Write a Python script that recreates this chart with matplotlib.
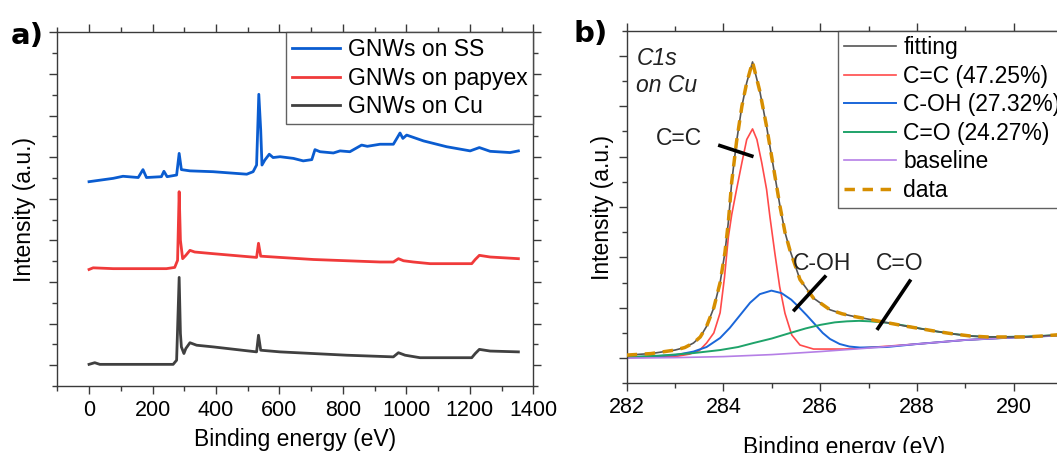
import matplotlib
matplotlib.use("Agg")
import matplotlib.pyplot as plt
from matplotlib.ticker import MultipleLocator

plt.rcParams['font.family'] = ['Liberation Sans', 'DejaVu Sans']

# ---------------- Panel a: survey spectra ----------------
ss_x = [0, 76, 107, 155, 170, 181, 228, 236, 246, 276, 284, 291, 318, 391, 497, 517, 528, 535, 541, 545,
        554, 568, 580, 602, 644, 675, 702, 712, 728, 770, 791, 822, 859, 877, 917, 959, 970, 980, 989,
        1001, 1054, 1127, 1201, 1230, 1264, 1327, 1353]
ss_y = [4.41, 4.49, 4.54, 4.51, 4.70, 4.51, 4.53, 4.66, 4.53, 4.57, 5.09, 4.70, 4.67, 4.65, 4.59, 4.65, 4.81,
        6.51, 5.65, 4.81, 4.93, 5.07, 4.99, 5.01, 4.97, 4.91, 4.94, 5.18, 5.13, 5.10, 5.15, 5.13, 5.29, 5.26,
        5.31, 5.31, 5.45, 5.58, 5.45, 5.53, 5.39, 5.25, 5.15, 5.23, 5.14, 5.11, 5.15]

pap_x = [0, 13, 76, 244, 270, 279, 284, 288, 295, 305, 318, 333, 391, 528, 534, 541, 602, 707, 812, 917,
         959, 975, 991, 1022, 1075, 1206, 1217, 1230, 1264, 1353]
pap_y = [2.30, 2.34, 2.32, 2.32, 2.35, 2.52, 4.17, 3.00, 2.56, 2.64, 2.76, 2.72, 2.68, 2.59, 2.93, 2.62,
         2.59, 2.54, 2.51, 2.48, 2.48, 2.56, 2.51, 2.48, 2.44, 2.44, 2.54, 2.64, 2.60, 2.56]

cu_x = [0, 18, 34, 265, 276, 284, 288, 291, 299, 305, 318, 339, 391, 528, 534, 541, 602, 707, 812, 959,
        975, 996, 1043, 1206, 1217, 1230, 1264, 1353]
cu_y = [0.02, 0.06, 0.02, 0.02, 0.12, 2.11, 0.76, 0.44, 0.28, 0.40, 0.54, 0.48, 0.44, 0.32, 0.72, 0.36,
        0.32, 0.28, 0.24, 0.20, 0.30, 0.24, 0.18, 0.18, 0.28, 0.38, 0.34, 0.32]

survey_labels = ["GNWs on SS", "GNWs on papyex", "GNWs on Cu"]

# ---------------- Panel b: C1s fit ----------------
data_x = [282.0, 282.5, 283.0, 283.2, 283.38, 283.52, 283.65, 283.8, 283.93, 284.03, 284.1, 284.17, 284.27,
          284.38, 284.48, 284.6, 284.75, 284.89, 285.03, 285.17, 285.27, 285.37, 285.58, 285.86, 286.2,
          286.45, 286.68, 287.23, 287.79, 288.1, 288.4, 288.75, 289.09, 289.45, 289.78, 290.26, 290.6, 291.0]
data_y = [0.06, 0.09, 0.16, 0.21, 0.30, 0.42, 0.63, 1.00, 1.50, 2.10, 2.70, 3.50, 4.30, 5.00, 5.47, 5.88,
          5.30, 4.60, 3.80, 3.00, 2.50, 2.15, 1.56, 1.19, 0.96, 0.88, 0.83, 0.73, 0.63, 0.58, 0.53, 0.48,
          0.44, 0.42, 0.42, 0.42, 0.44, 0.47]
fit_y = [0.06, 0.09, 0.16, 0.21, 0.30, 0.42, 0.63, 1.00, 1.50, 2.10, 2.70, 3.50, 4.30, 5.00, 5.47, 5.88,
         5.30, 4.60, 3.80, 3.00, 2.50, 2.15, 1.56, 1.19, 0.96, 0.88, 0.83, 0.73, 0.63, 0.58, 0.53, 0.48,
         0.44, 0.42, 0.42, 0.42, 0.44, 0.47]

cc_x = [282.0, 283.0, 283.3, 283.5, 283.65, 283.8, 283.93, 284.02, 284.1, 284.17, 284.27, 284.38, 284.48,
        284.6, 284.69, 284.79, 284.89, 284.96, 285.06, 285.16, 285.27, 285.41, 285.58, 285.86, 286.5,
        287.0, 288.0, 289.0, 290.0, 291.0]
cc_y = [0.01, 0.03, 0.08, 0.15, 0.30, 0.50, 0.90, 1.60, 2.40, 2.85, 3.35, 3.88, 4.34, 4.55, 4.34, 3.88,
        3.35, 2.80, 2.09, 1.42, 0.89, 0.46, 0.26, 0.18, 0.18, 0.21, 0.28, 0.36, 0.41, 0.45]

coh_x = [282.0, 283.0, 283.38, 283.65, 283.93, 284.13, 284.34, 284.55, 284.75, 284.99, 285.2, 285.4,
         285.55, 285.72, 285.9, 286.05, 286.2, 286.4, 286.6, 286.82, 287.37, 288.0, 289.0, 290.0, 291.0]
coh_y = [0.01, 0.06, 0.13, 0.22, 0.40, 0.60, 0.85, 1.10, 1.27, 1.34, 1.29, 1.16, 1.02, 0.85, 0.66, 0.50,
         0.38, 0.28, 0.23, 0.21, 0.22, 0.28, 0.36, 0.41, 0.45]

co_x = [282.0, 282.7, 283.38, 283.93, 284.3, 284.62, 285.0, 285.31, 285.7, 286.0, 286.3, 286.55, 286.8,
        287.03, 287.4, 287.72, 288.05, 288.4, 288.75, 289.09, 289.45, 289.78, 290.3, 291.0]
co_y = [0.02, 0.05, 0.10, 0.16, 0.22, 0.30, 0.39, 0.48, 0.59, 0.66, 0.71, 0.73, 0.74, 0.73, 0.70, 0.65,
        0.59, 0.53, 0.48, 0.44, 0.42, 0.42, 0.43, 0.46]

base_x = [282.0, 283.0, 284.0, 285.0, 286.0, 287.0, 288.0, 289.0, 290.0, 291.0]
base_y = [0.00, 0.01, 0.03, 0.07, 0.13, 0.20, 0.28, 0.36, 0.41, 0.45]

fit_labels = ["fitting", "C=C (47.25%)", "C-OH (27.32%)", "C=O (24.27%)", "baseline", "data"]

W, H = 1057, 453
fig = plt.figure(figsize=(W / 100, H / 100), dpi=100)

def px_axes(l, t, r, b):
    return fig.add_axes([l / W, 1 - b / H, (r - l) / W, (b - t) / H])

spine_c = '#3a3a3a'

def style(ax):
    for s in ax.spines.values():
        s.set_color(spine_c)
        s.set_linewidth(1.0)
    ax.tick_params(which='both', direction='out', top=True, right=True, color=spine_c,
                   labelsize=15.5, pad=4)
    ax.tick_params(which='major', length=6, width=1.0)
    ax.tick_params(which='minor', length=3.5, width=1.0)
    ax.tick_params(axis='y', labelleft=False)

# ----- panel a -----
axa = px_axes(57.3, 32.3, 533.3, 386)
axa.plot(ss_x, ss_y, color='#0a5cd0', lw=2.0, label=survey_labels[0])
axa.plot(pap_x, pap_y, color='#f03a3a', lw=2.0, label=survey_labels[1])
axa.plot(cu_x, cu_y, color='#404040', lw=2.0, label=survey_labels[2])
axa.set_xlim(-100, 1400)
axa.set_ylim(-0.5, 8)
axa.xaxis.set_major_locator(MultipleLocator(200))
axa.xaxis.set_minor_locator(MultipleLocator(100))
axa.yaxis.set_major_locator(MultipleLocator(1))
axa.yaxis.set_minor_locator(MultipleLocator(0.5))
style(axa)
axa.set_xlabel("Binding energy (eV)", fontsize=16.5, labelpad=5)
axa.set_ylabel("Intensity (a.u.)", fontsize=16.5, labelpad=8)
lga = axa.legend(loc='upper right', bbox_to_anchor=(1.0, 1.0), borderaxespad=0, fontsize=16.5,
                 frameon=True, fancybox=False, edgecolor=spine_c, handlelength=2.1,
                 handletextpad=0.35, labelspacing=0.24, borderpad=0.25)
lga.get_frame().set_linewidth(1.0)

# ----- panel b -----
axb = px_axes(626.7, 30.7, 1062.3, 383.3)
axb.plot(data_x, fit_y, color='#555555', lw=1.2, label=fit_labels[0], zorder=4)
axb.plot(cc_x, cc_y, color='#ff4a4a', lw=1.2, label=fit_labels[1], zorder=2)
axb.plot(coh_x, coh_y, color='#1a66d9', lw=1.4, label=fit_labels[2], zorder=2)
axb.plot(co_x, co_y, color='#1fa36a', lw=1.4, label=fit_labels[3], zorder=2)
axb.plot(base_x, base_y, color='#b57fe6', lw=1.2, label=fit_labels[4], zorder=2)
axb.plot(data_x, data_y, color='#d68e00', lw=2.5, ls=(0, (3, 2.2)), label=fit_labels[5], zorder=5)
axb.set_xlim(282, 291)
axb.set_ylim(-0.5, 6.5)
axb.xaxis.set_major_locator(MultipleLocator(2))
axb.xaxis.set_minor_locator(MultipleLocator(1))
axb.yaxis.set_major_locator(MultipleLocator(1))
axb.yaxis.set_minor_locator(MultipleLocator(0.5))
style(axb)
axb.set_xlabel("Binding energy (eV)", fontsize=16.5, labelpad=13)
axb.set_ylabel("Intensity (a.u.)", fontsize=16.5, labelpad=2)
lgb = axb.legend(loc='upper left', bbox_to_anchor=((838 - 626.7) / (1062.3 - 626.7), 1.0),
                 borderaxespad=0, fontsize=16.5, frameon=True, fancybox=False, edgecolor=spine_c,
                 handlelength=2.3, handletextpad=0.3, labelspacing=0.24, borderpad=0.25)
lgb.get_frame().set_linewidth(1.0)

axb.text(282.2, 6.18, "C1s\non Cu", fontsize=16.5, style='italic', va='top', ha='left',
         linespacing=1.25, color='#222222')

ann_text = ["C=C", "C-OH", "C=O"]
ann_pos = [(283.08, 4.36), (286.03, 1.88), (287.65, 1.88)]
ann_lines = [((283.89, 4.23), (284.62, 4.0)), ((286.12, 1.64), (285.44, 0.93)),
             ((287.87, 1.56), (287.17, 0.56))]
for t, p, ln in zip(ann_text, ann_pos, ann_lines):
    axb.text(p[0], p[1], t, fontsize=16.5, ha='center', va='center', color='#222222', zorder=6)
    axb.plot([ln[0][0], ln[1][0]], [ln[0][1], ln[1][1]], color='black', lw=2.6,
             solid_capstyle='butt', zorder=6)

fig.text(11 / W, 1 - 44 / H, "a)", fontsize=21, fontweight='bold', family='DejaVu Sans',
         ha='left', va='baseline')
fig.text(573 / W, 1 - 42 / H, "b)", fontsize=21, fontweight='bold', family='DejaVu Sans',
         ha='left', va='baseline')

fig.savefig("out.png", dpi=100)
